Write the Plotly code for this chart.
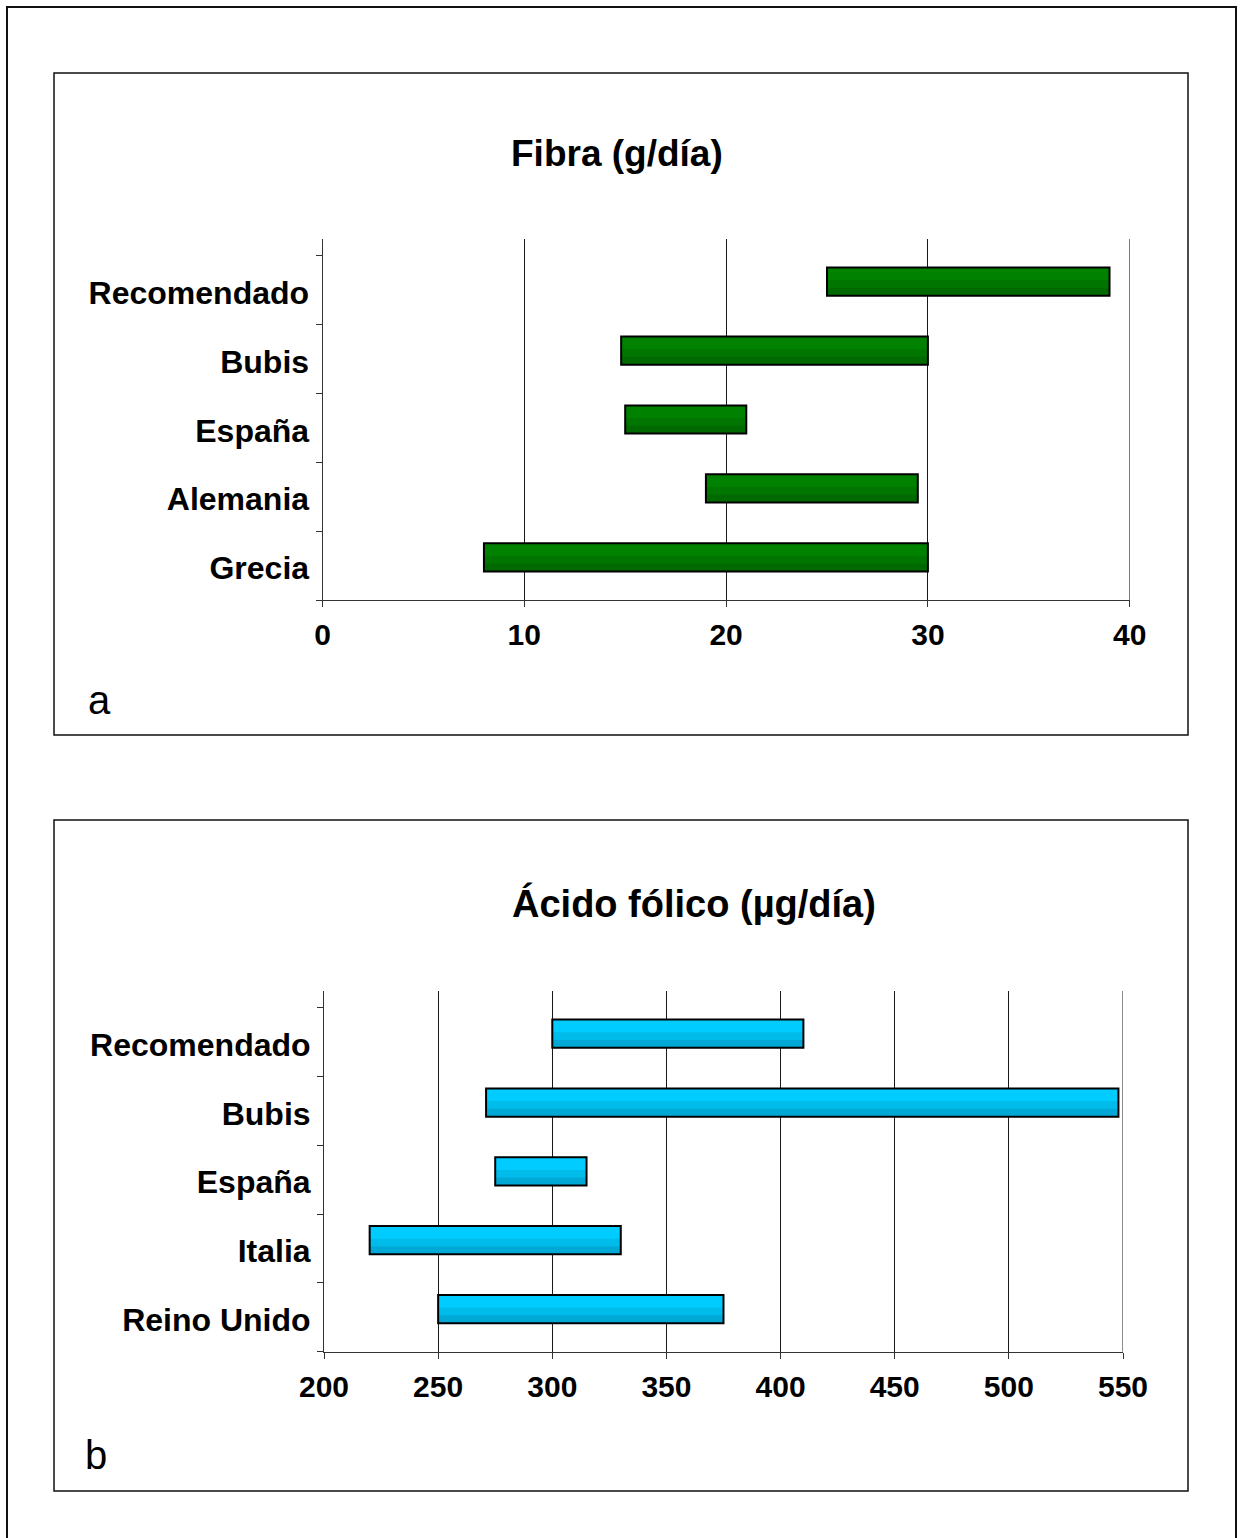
import plotly.graph_objects as go

W, H = 1242, 1538

# Fibra (g/día): intervalo mínimo–máximo por fuente
fib_cats = ["Grecia", "Alemania", "España", "Bubis", "Recomendado"]
fib_min = [8, 19, 15, 14.8, 25]
fib_max = [30, 29.5, 21, 30, 39]
fib_ticks = [0, 10, 20, 30, 40]

# Ácido fólico (µg/día)
fol_cats = ["Reino Unido", "Italia", "España", "Bubis", "Recomendado"]
fol_min = [250, 220, 275, 271, 300]
fol_max = [375, 330, 315, 548, 410]
fol_ticks = [200, 250, 300, 350, 400, 450, 500, 550]

GREEN = ["#008200", "#007600", "#006a00"]
BLUE = ["#00CCFF", "#00BCEB", "#00A8D6"]

BAR_W = 0.41
FONT = "Liberation Sans, Arial, sans-serif"


def px(x):
    return x / W


def py(y):
    return 1 - y / H


fig = go.Figure()


def add_ranges(lo, hi, shades, xa, ya):
    pos = list(range(len(lo)))
    span = [h - l for l, h in zip(lo, hi)]
    # shaded fill: lighter top, darker lower bands
    for frac, col in zip([1.0, 0.55, 0.28], shades):
        fig.add_trace(go.Bar(
            y=pos, x=span, base=lo, orientation="h",
            width=BAR_W * frac, offset=-BAR_W / 2,
            marker=dict(color=col, line=dict(width=0)),
            xaxis=xa, yaxis=ya, showlegend=False, hoverinfo="skip",
        ))
    # outline
    fig.add_trace(go.Bar(
        y=pos, x=span, base=lo, orientation="h",
        width=BAR_W, offset=-BAR_W / 2,
        marker=dict(color="rgba(0,0,0,0)", line=dict(color="#000000", width=2)),
        xaxis=xa, yaxis=ya, showlegend=False,
    ))


add_ranges(fib_min, fib_max, GREEN, "x", "y")
add_ranges(fol_min, fol_max, BLUE, "x2", "y2")

tick_pos = [i + 0.38 for i in range(-1, 5)]

xcommon = dict(
    showgrid=True, gridcolor="#1a1a1a", gridwidth=1,
    showline=True, linecolor="#333333", linewidth=1,
    ticks="outside", ticklen=6, tickcolor="#333333",
    tickfont=dict(family=FONT, size=30, color="#000000", weight="bold"),
    ticklabelstandoff=2, zeroline=False, fixedrange=True, automargin=False,
)
ycommon = dict(
    range=[-0.62, 4.62], tickvals=tick_pos,
    showgrid=False, zeroline=False,
    showline=True, linecolor="#333333", linewidth=1,
    ticks="outside", ticklen=6, tickcolor="#333333",
    tickfont=dict(family=FONT, size=32, color="#000000", weight="bold"),
    ticklabelshift=37, ticklabelstandoff=0, fixedrange=True, automargin=False,
)

fig.update_layout(
    width=W, height=H,
    margin=dict(l=0, r=0, t=0, b=0, autoexpand=False),
    paper_bgcolor="white", plot_bgcolor="white",
    barmode="overlay",
    xaxis=dict(domain=[px(322.5), px(1129.7)], range=[0, 40],
               tickvals=fib_ticks, anchor="y", **xcommon),
    yaxis=dict(domain=[py(600), py(239)], anchor="x",
               ticktext=[""] + fib_cats, **ycommon),
    xaxis2=dict(domain=[px(324), px(1123)], range=[200, 550],
                tickvals=fol_ticks, anchor="y2", **xcommon),
    yaxis2=dict(domain=[py(1351.7), py(991)], anchor="x2",
                ticktext=[""] + fol_cats, **ycommon),
)

# gridline at the far end of each value axis
for xa, ya, ticks in [("x", "y", fib_ticks), ("x2", "y2", fol_ticks)]:
    fig.add_shape(type="line", xref=xa, yref=f"{ya} domain",
                  x0=ticks[-1], x1=ticks[-1], y0=0, y1=1,
                  line=dict(color="#1a1a1a", width=1), layer="below")

# frames
fig.add_shape(type="rect", xref="paper", yref="paper",
              x0=px(7), x1=px(1236), y0=py(1560), y1=py(7),
              line=dict(color="#111111", width=2), layer="below")
for top, bottom in [(73, 735), (820, 1491)]:
    fig.add_shape(type="rect", xref="paper", yref="paper",
                  x0=px(54), x1=px(1188), y0=py(bottom), y1=py(top),
                  line=dict(color="#111111", width=1.5), layer="below")

# titles
fig.add_annotation(text="<b>Fibra (g/día)</b>", xref="paper", yref="paper",
                   x=px(616.5), y=py(153), xanchor="center", yanchor="middle",
                   showarrow=False, font=dict(family=FONT, size=37, color="#000000"))
fig.add_annotation(text="<b>Ácido fólico (µg/día)</b>", xref="paper", yref="paper",
                   x=px(694), y=py(903), xanchor="center", yanchor="middle",
                   showarrow=False, font=dict(family=FONT, size=38, color="#000000"))

# panel letters
fig.add_annotation(text="a", xref="paper", yref="paper",
                   x=px(86), y=py(700), xanchor="left", yanchor="middle",
                   showarrow=False, font=dict(family=FONT, size=40, color="#000000"))
fig.add_annotation(text="b", xref="paper", yref="paper",
                   x=px(83), y=py(1455), xanchor="left", yanchor="middle",
                   showarrow=False, font=dict(family=FONT, size=40, color="#000000"))

fig.write_html("out.html")
